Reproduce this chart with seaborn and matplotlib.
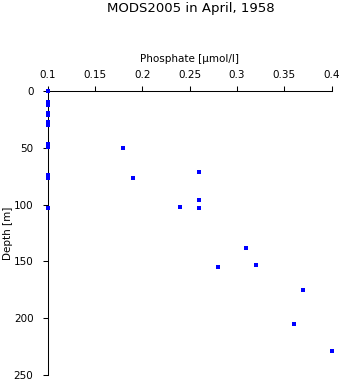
import matplotlib
matplotlib.use("Agg")
import matplotlib.pyplot as plt
import seaborn as sns
import pandas as pd

# Phosphate profile, MODS2005, April 1958
phosphate = [0.10, 0.10, 0.10, 0.10, 0.10, 0.10, 0.10, 0.10, 0.10, 0.10, 0.10, 0.10,
             0.18, 0.19, 0.26, 0.26, 0.26, 0.24,
             0.28, 0.31, 0.32, 0.37, 0.36, 0.40]
depth = [0, 10, 12, 19, 21, 27, 30, 47, 49, 74, 77, 103,
         50, 77, 71, 96, 103, 102,
         155, 138, 153, 175, 205, 229]

x_ticks = [0.1, 0.15, 0.2, 0.25, 0.3, 0.35, 0.4]
x_tick_labels = ["0.1", "0.15", "0.2", "0.25", "0.3", "0.35", "0.4"]
y_ticks = [0, 50, 100, 150, 200, 250]
y_tick_labels = ["0", "50", "100", "150", "200", "250"]

title = "MODS2005 in April, 1958"
x_label = "Phosphate [\u00b5mol/l]"
y_label = "Depth [m]"

df = pd.DataFrame({"phosphate": phosphate, "depth": depth})

sns.set_theme(style="white")
plt.rcParams["font.family"] = ["DejaVu Sans"]

fig = plt.figure(figsize=(3.43, 3.84), dpi=100)
ax = fig.add_axes([0.1385, 0.0234, 0.8286, 0.7396])

sns.scatterplot(data=df, x="phosphate", y="depth", ax=ax, marker="s",
                color="#0000ff", s=6, linewidth=0, clip_on=False, zorder=5)

ax.set_xlim(0.1, 0.4)
ax.set_ylim(250, 0)

ax.xaxis.tick_top()
ax.xaxis.set_label_position("top")
ax.set_xticks(x_ticks)
ax.set_xticklabels(x_tick_labels)
ax.set_yticks(y_ticks)
ax.set_yticklabels(y_tick_labels)

ax.tick_params(axis="both", which="major", direction="out", length=3.6,
               width=0.75, color="black", labelsize=7.5, labelcolor="black",
               top=True, bottom=False, left=True, right=False)
ax.tick_params(axis="x", pad=4.5)
ax.tick_params(axis="y", pad=6.5)

for side in ["right", "bottom"]:
    ax.spines[side].set_visible(False)
for side in ["left", "top"]:
    ax.spines[side].set_visible(True)
    ax.spines[side].set_color("black")
    ax.spines[side].set_linewidth(0.75)

ax.set_xlabel(x_label, fontsize=7.5, color="black", labelpad=5.5)
ax.set_ylabel(y_label, fontsize=7.5, color="black", labelpad=0.5)
ax.grid(False)

fig.text(0.556, 1 - 8.5 / 384, title, ha="center", va="center",
         fontsize=9.5, color="black")

fig.savefig("out.png", dpi=100, facecolor="white")
